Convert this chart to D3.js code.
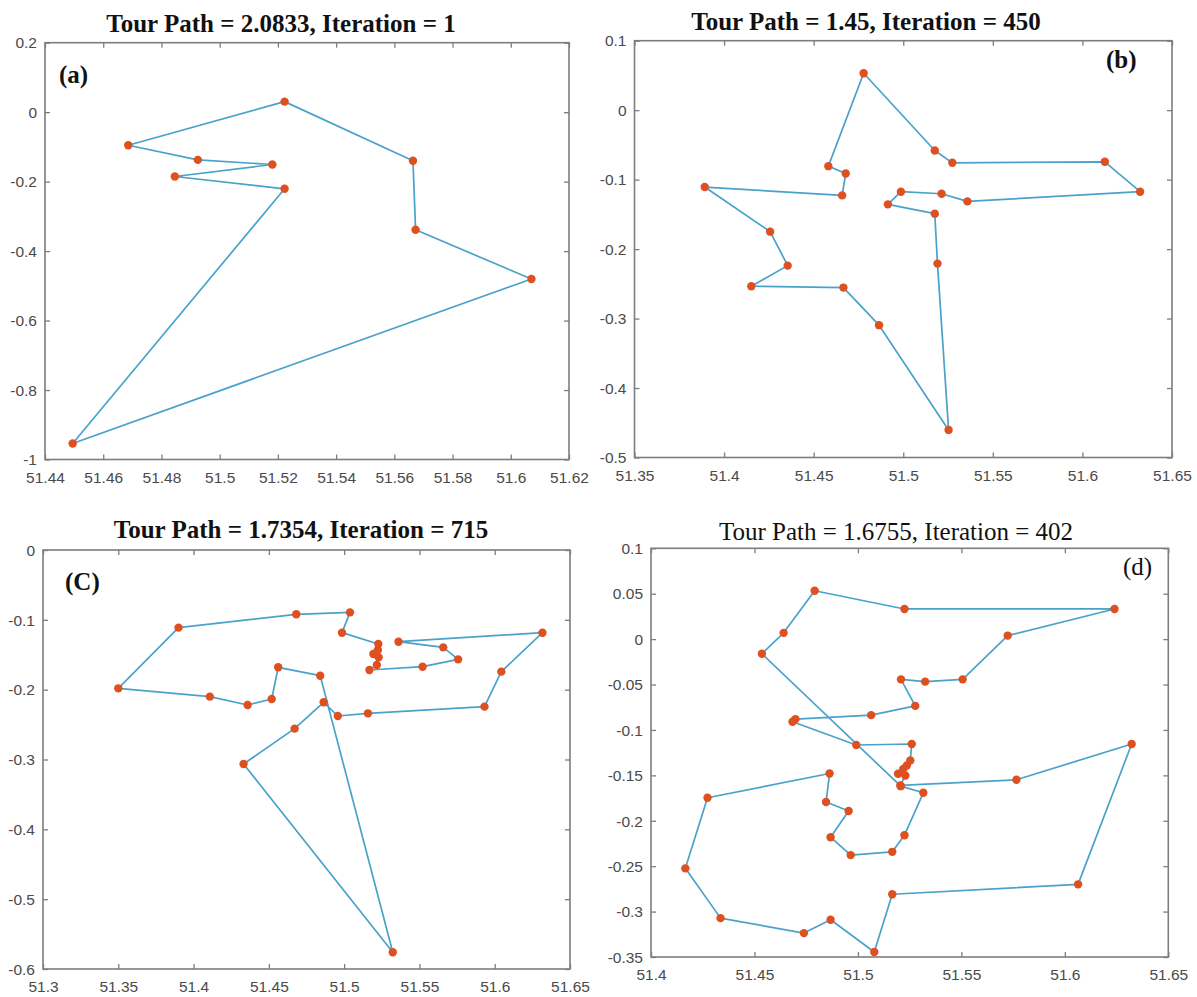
<!DOCTYPE html>
<html><head><meta charset="utf-8">
<script src="https://cdn.jsdelivr.net/npm/d3@7"></script>
<style>body{margin:0;background:#fff}</style>
</head><body>
<svg id="chart" width="1197" height="997"></svg>
<script>
// ---------- data ----------
const titleA = "Tour Path = 2.0833, Iteration = 1";
const titleB = "Tour Path = 1.45, Iteration = 450";
const titleC = "Tour Path = 1.7354, Iteration = 715";
const titleD = "Tour Path = 1.6755, Iteration = 402";

const tourAx = [51.5223, 51.5664, 51.5673, 51.6071, 51.4495, 51.5223, 51.4846, 51.5181, 51.4925, 51.4686];
const tourAy = [0.0304, -0.140, -0.3386, -0.4804, -0.9538, -0.2207, -0.1852, -0.1507, -0.1373, -0.0952];

const tourBx = [51.4779, 51.5176, 51.5274, 51.6125, 51.6322, 51.5358, 51.5214, 51.4987, 51.4914, 51.5176, 51.5191,
                51.5253, 51.4865, 51.4666, 51.4152, 51.4355, 51.4257, 51.3892, 51.4659, 51.4679, 51.4582];
const tourBy = [0.0531, -0.058, -0.0758, -0.0743, -0.1174, -0.1313, -0.1203, -0.1174, -0.1356, -0.149, -0.2209,
                -0.4603, -0.3095, -0.2554, -0.2534, -0.2238, -0.1749, -0.1107, -0.1227, -0.0911, -0.0806];

const tourCx = [51.35, 51.39, 51.4682, 51.5039, 51.4986, 51.5227, 51.5224, 51.5194, 51.5229, 51.5217, 51.5168,
                51.5521, 51.5757, 51.5658, 51.5361, 51.6317, 51.6044, 51.5932, 51.5158, 51.4958, 51.4864,
                51.4671, 51.4332, 51.5323, 51.4841, 51.4562, 51.4519, 51.4359, 51.4108];
const tourCy = [-0.1981, -0.1112, -0.0921, -0.0893, -0.1184, -0.1346, -0.1432, -0.1489, -0.1537, -0.1647, -0.1718,
                -0.1671, -0.1566, -0.1394, -0.1313, -0.1184, -0.1742, -0.2243, -0.2339, -0.2377, -0.2181,
                -0.2558, -0.3064, -0.5761, -0.18, -0.168, -0.2134, -0.222, -0.21];

const tourDx = [51.4791, 51.5225, 51.624, 51.5724, 51.5506, 51.5325, 51.5208, 51.5277, 51.5064, 51.4698,
                51.4684, 51.4992, 51.526, 51.5253, 51.5236, 51.5219, 51.5194, 51.5229, 51.5205, 51.5766,
                51.6323, 51.6064, 51.5166, 51.5079, 51.4868, 51.4739, 51.4336, 51.4166, 51.4273, 51.4863,
                51.4846, 51.4955, 51.4868, 51.4965, 51.5166, 51.5225, 51.5316, 51.5207, 51.4536, 51.4641];
const tourDy = [0.0533, 0.0332, 0.0332, 0.0039, -0.0443, -0.0468, -0.0443, -0.0735, -0.0837, -0.0881,
                -0.091, -0.1166, -0.1155, -0.1337, -0.1392, -0.1429, -0.1483, -0.1502, -0.1611, -0.1549,
                -0.1155, -0.27, -0.2809, -0.3445, -0.309, -0.3237, -0.3072, -0.2524, -0.1747, -0.148,
                -0.1794, -0.1893, -0.2181, -0.2378, -0.2342, -0.2159, -0.1692, -0.1619, -0.0161, 0.0069];

const ticksAx = [51.44, 51.46, 51.48, 51.5, 51.52, 51.54, 51.56, 51.58, 51.6, 51.62];
const ticksAy = [-1, -0.8, -0.6, -0.4, -0.2, 0, 0.2];
const ticksBx = [51.35, 51.4, 51.45, 51.5, 51.55, 51.6, 51.65];
const ticksBy = [-0.5, -0.4, -0.3, -0.2, -0.1, 0, 0.1];
const ticksCx = [51.3, 51.35, 51.4, 51.45, 51.5, 51.55, 51.6, 51.65];
const ticksCy = [-0.6, -0.5, -0.4, -0.3, -0.2, -0.1, 0];
const ticksDx = [51.4, 51.45, 51.5, 51.55, 51.6, 51.65];
const ticksDy = [-0.35, -0.3, -0.25, -0.2, -0.15, -0.1, -0.05, 0, 0.05, 0.1];

// ---------- layout / style ----------
const panels = [
  {L:45, T:42.7, R:569, B:459.5, xd:[51.44,51.62], yd:[-1,0.2], xt:ticksAx, yt:ticksAy, xs:tourAx, ys:tourAy,
   title:titleA, tx:281, ty:31.5, bold:true, label:"(a)", lx:59, ly:83, lb:true},
  {L:634.5, T:40.7, R:1172, B:457.5, xd:[51.35,51.65], yd:[-0.5,0.1], xt:ticksBx, yt:ticksBy, xs:tourBx, ys:tourBy,
   title:titleB, tx:866, ty:30, bold:true, label:"(b)", lx:1106, ly:68, lb:true},
  {L:43, T:550, R:570, B:969, xd:[51.3,51.65], yd:[-0.6,0], xt:ticksCx, yt:ticksCy, xs:tourCx, ys:tourCy,
   title:titleC, tx:301, ty:538.3, bold:true, label:"(C)", lx:65, ly:590, lb:true},
  {L:651, T:548.3, R:1168.3, B:957, xd:[51.4,51.65], yd:[-0.35,0.1], xt:ticksDx, yt:ticksDy, xs:tourDx, ys:tourDy,
   title:titleD, tx:896, ty:540, bold:false, label:"(d)", lx:1123, ly:575, lb:false}
];

const svg = d3.select("#chart");
svg.append("rect").attr("width",1197).attr("height",997).attr("fill","#fff");

const fmt = v => String(+v.toFixed(4));
const frameColor = "#7d7d7d";
const tickFont = "'Liberation Sans', Arial, sans-serif";
const serif = "'Liberation Serif', 'Times New Roman', serif";

panels.forEach(p => {
  const x = d3.scaleLinear().domain(p.xd).range([p.L, p.R]);
  const y = d3.scaleLinear().domain(p.yd).range([p.B, p.T]);
  const g = svg.append("g");

  const styleAxis = sel => {
    sel.select(".domain").remove();
    sel.selectAll(".tick line").attr("stroke", frameColor).attr("stroke-width", 1.3);
    sel.selectAll(".tick text").attr("fill", "#4a4a4a")
      .style("font-family", tickFont).style("font-size", "15.5px");
  };

  g.append("g").attr("transform", `translate(0,${p.B})`)
    .call(d3.axisBottom(x).tickValues(p.xt).tickSize(-5).tickSizeOuter(0).tickPadding(12).tickFormat(fmt))
    .call(styleAxis);
  g.append("g").attr("transform", `translate(0,${p.T})`)
    .call(d3.axisTop(x).tickValues(p.xt).tickSize(-5).tickSizeOuter(0).tickFormat(""))
    .call(styleAxis);
  const la = g.append("g").attr("transform", `translate(${p.L},0)`)
    .call(d3.axisLeft(y).tickValues(p.yt).tickSize(-5).tickSizeOuter(0).tickPadding(8).tickFormat(fmt))
    .call(styleAxis);
  la.selectAll(".tick text").attr("dy", "0.34em");
  g.append("g").attr("transform", `translate(${p.R},0)`)
    .call(d3.axisRight(y).tickValues(p.yt).tickSize(-5).tickSizeOuter(0).tickFormat(""))
    .call(styleAxis);

  g.append("rect").attr("x", p.L).attr("y", p.T).attr("width", p.R - p.L).attr("height", p.B - p.T)
    .attr("fill", "none").attr("stroke", frameColor).attr("stroke-width", 1.6);

  const pts = p.xs.map((v, i) => [v, p.ys[i]]);
  const line = d3.line().x(d => x(d[0])).y(d => y(d[1]));
  g.append("path").datum(pts.concat([pts[0]])).attr("d", line)
    .attr("fill", "none").attr("stroke", "#4aa2ca").attr("stroke-width", 1.7).attr("stroke-linejoin", "round");
  g.selectAll("circle.pt").data(pts).enter().append("circle").attr("class", "pt")
    .attr("cx", d => x(d[0])).attr("cy", d => y(d[1])).attr("r", 4.2).attr("fill", "#df5020");

  g.append("text").attr("x", p.tx).attr("y", p.ty).attr("text-anchor", "middle")
    .style("font-family", serif).style("font-size", "25px").style("font-weight", p.bold ? "bold" : "normal")
    .attr("fill", "#111").text(p.title);
  g.append("text").attr("x", p.lx).attr("y", p.ly)
    .style("font-family", serif).style("font-size", "25px").style("font-weight", p.lb ? "bold" : "normal")
    .attr("fill", "#111").text(p.label);
});
</script>
</body></html>
